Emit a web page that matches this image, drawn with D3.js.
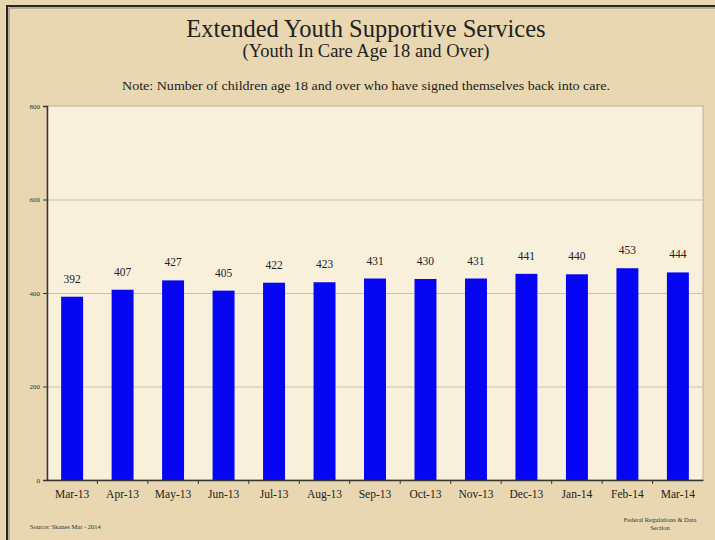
<!DOCTYPE html>
<html><head><meta charset="utf-8">
<script src="https://cdn.jsdelivr.net/npm/d3@7"></script>
<style>html,body{margin:0;padding:0;background:#e9d9b3;}svg{display:block;}</style>
</head><body>
<script>
const categories = ["Mar-13","Apr-13","May-13","Jun-13","Jul-13","Aug-13","Sep-13","Oct-13","Nov-13","Dec-13","Jan-14","Feb-14","Mar-14"];
const values = [392,407,427,405,422,423,431,430,431,441,440,453,444];
const yTicks = [0,200,400,600,800];
const title = "Extended Youth Supportive Services";
const subtitle = "(Youth In Care Age 18 and Over)";
const note = "Note: Number of children age 18 and over who have signed themselves back into care.";

const W = 715, H = 540;
const m = {left:47, right:12, top:106, bottom:60};
const svg = d3.select("body").append("svg").attr("width", W).attr("height", H);
const serif = "'Liberation Serif','DejaVu Serif',serif";

// background parchment
svg.append("rect").attr("width",W).attr("height",H).attr("fill","#e8d7b0");
// frame
svg.append("path").attr("d",`M7,${H} L7,6 L${W},6`).attr("fill","none").attr("stroke","#2a2622").attr("stroke-width",2);
svg.append("path").attr("d",`M9,${H} L9,8 L${W},8`).attr("fill","none").attr("stroke","#8a7f70").attr("stroke-width",1);

const x = d3.scaleBand().domain(categories).range([m.left, W - m.right]).paddingInner(0.565).paddingOuter(0.28);
const y = d3.scaleLinear().domain([0,800]).range([H - m.bottom, m.top]);

// plot area
svg.append("rect").attr("x",m.left).attr("y",m.top).attr("width",W-m.right-m.left).attr("height",H-m.bottom-m.top)
  .attr("fill","#f9f0db").attr("stroke","#b9b0a0").attr("stroke-width",1);

// gridlines
svg.append("g").selectAll("line").data(yTicks.filter(d=>d>0 && d<800)).join("line")
  .attr("x1",m.left).attr("x2",W-m.right).attr("y1",d=>y(d)+0.5).attr("y2",d=>y(d)+0.5)
  .attr("stroke","#cbc2ae").attr("stroke-width",1);

// bars
svg.append("g").selectAll("rect").data(values).join("rect")
  .attr("x",(d,i)=>x(categories[i])).attr("width",x.bandwidth())
  .attr("y",d=>y(d)).attr("height",d=>y(0)-y(d))
  .attr("fill","#0606f2");

// value labels
svg.append("g").selectAll("text").data(values).join("text")
  .attr("x",(d,i)=>x(categories[i])+x.bandwidth()/2).attr("y",d=>y(d)-14)
  .attr("text-anchor","middle").attr("font-family",serif).attr("font-size",11.5).attr("fill","#222")
  .text(d=>d);

// y axis
const ya = svg.append("g").attr("transform",`translate(${m.left},0)`)
  .call(d3.axisLeft(y).tickValues(yTicks).tickSize(4).tickPadding(3));
ya.select(".domain").attr("stroke","#3a3630").attr("stroke-width",1.5);
ya.selectAll(".tick line").attr("stroke","#3a3630");
ya.selectAll("text").attr("font-family",serif).attr("font-size",7).attr("fill","#333");

// x axis
const xa = svg.append("g").attr("transform",`translate(0,${y(0)})`)
  .call(d3.axisBottom(x).tickSize(0).tickPadding(10));
xa.select(".domain").attr("stroke","#3a3630").attr("stroke-width",1.5);
xa.selectAll("text").attr("font-family",serif).attr("font-size",11.5).attr("fill","#222");
// band boundary ticks
const step = x.step();
const bounds = categories.slice(1).map(c => x(c) - x.paddingInner()*step/2);
svg.append("g").selectAll("line").data(bounds).join("line")
  .attr("x1",d=>d).attr("x2",d=>d).attr("y1",y(0)).attr("y2",y(0)+4)
  .attr("stroke","#3a3630");

// titles
svg.append("text").attr("x",366).attr("y",37).attr("text-anchor","middle").attr("font-family",serif)
  .attr("font-size",24.5).attr("fill","#222").text(title);
svg.append("text").attr("x",366).attr("y",57).attr("text-anchor","middle").attr("font-family",serif)
  .attr("font-size",18.5).attr("fill","#222").text(subtitle);
svg.append("text").attr("x",366).attr("y",90).attr("text-anchor","middle").attr("font-family",serif)
  .attr("font-size",13.5).attr("textLength",488).attr("lengthAdjust","spacingAndGlyphs").attr("fill","#222").text(note);

// footer
svg.append("text").attr("x",30).attr("y",529).attr("font-family",serif).attr("font-size",6.5).attr("fill","#333")
  .text("Source: Skanes  Mar - 2014");
svg.append("text").attr("x",660).attr("y",522).attr("text-anchor","middle").attr("font-family",serif).attr("font-size",6.5).attr("fill","#333")
  .text("Federal Regulations & Data");
svg.append("text").attr("x",660).attr("y",530).attr("text-anchor","middle").attr("font-family",serif).attr("font-size",6.5).attr("fill","#333")
  .text("Section");
</script>
</body></html>
